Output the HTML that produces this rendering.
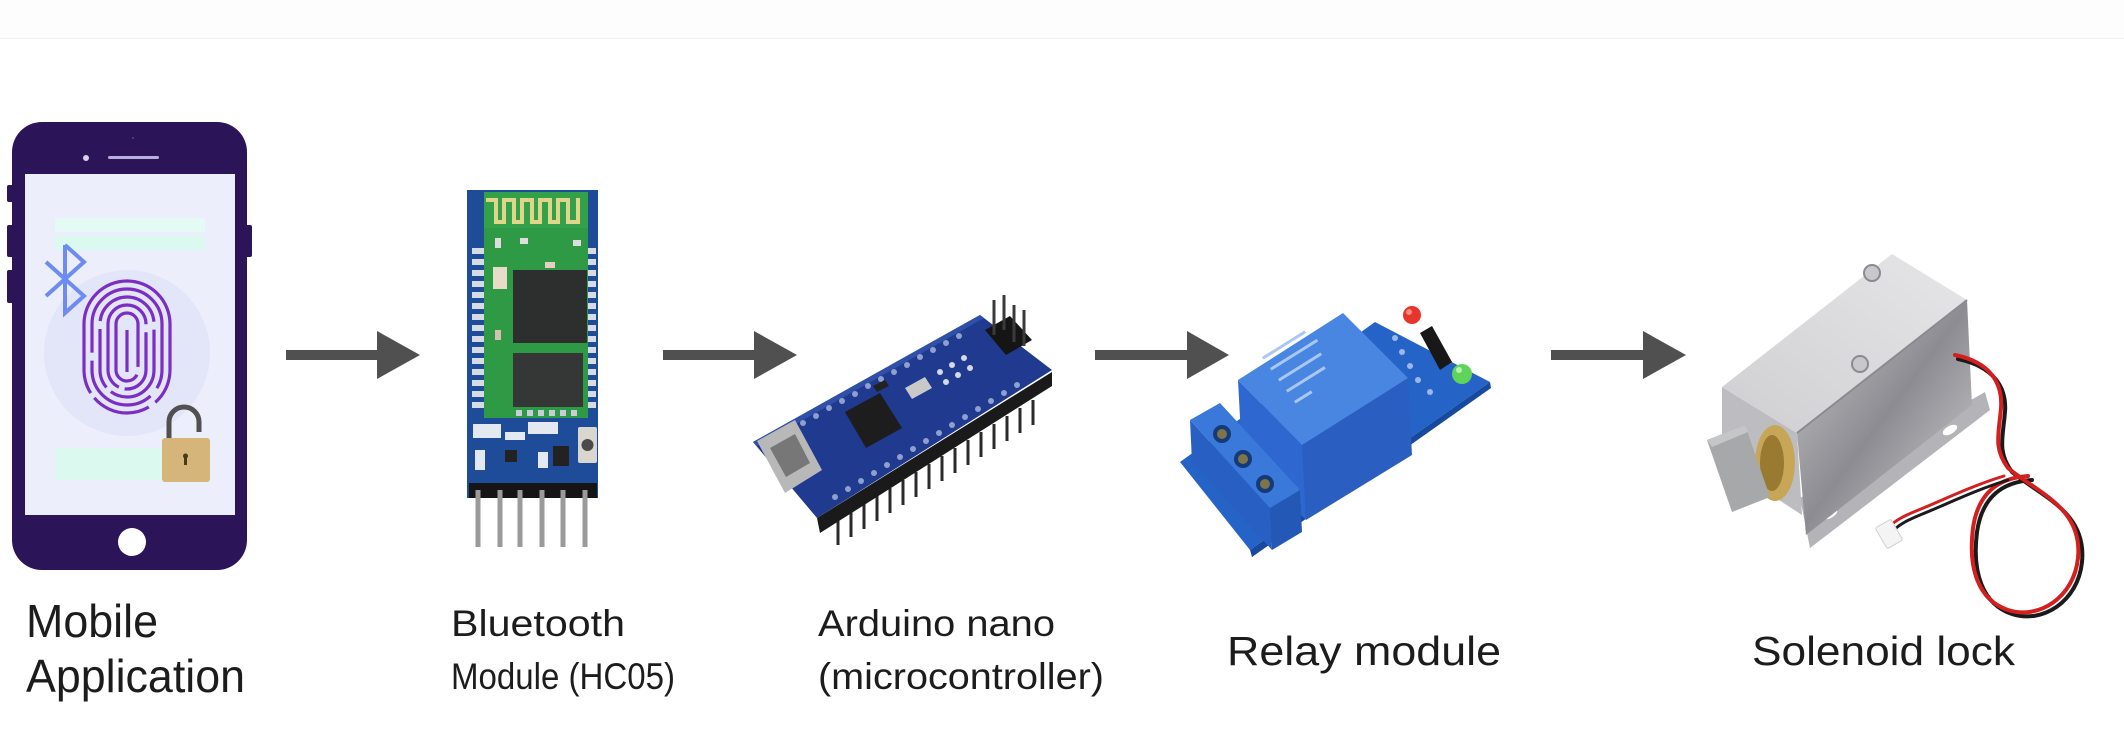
<!DOCTYPE html>
<html>
<head>
<meta charset="utf-8">
<style>
html,body{margin:0;padding:0;background:#fff;}
svg{display:block;}
text{font-family:"Liberation Sans",Arial,sans-serif;fill:#1c1c1c;}
</style>
</head>
<body>
<svg width="2124" height="747" viewBox="0 0 2124 747" xmlns="http://www.w3.org/2000/svg">
<rect width="2124" height="747" fill="#ffffff"/>
<rect x="0" y="0" width="2124" height="38" fill="#fdfdfd"/>
<line x1="0" y1="38.5" x2="2124" y2="38.5" stroke="#f0f0f0" stroke-width="1"/>

<!-- ============ PHONE ============ -->
<rect x="7" y="185" width="8" height="17" rx="2" fill="#2b1457"/>
<rect x="7" y="225" width="8" height="32" rx="2" fill="#2b1457"/>
<rect x="7" y="270" width="8" height="33" rx="2" fill="#2b1457"/>
<rect x="244" y="225" width="8" height="32" rx="2" fill="#2b1457"/>
<rect x="12" y="122" width="235" height="448" rx="30" fill="#2b1457"/>
<rect x="25" y="174" width="210" height="341" fill="#eceefc"/>
<circle cx="86" cy="158" r="3" fill="#d7d0ef"/>
<rect x="108" y="156" width="51" height="3" rx="1.5" fill="#b9aee0"/>
<circle cx="133" cy="138" r="1" fill="#5a4a86"/>
<circle cx="132" cy="542" r="14" fill="#ffffff"/>
<rect x="55" y="218" width="150" height="14" fill="#e3fbf4"/>
<rect x="55" y="236" width="150" height="14" fill="#dcf9f0"/>
<rect x="55" y="448" width="140" height="32" fill="#dcf9f0"/>
<circle cx="127" cy="353" r="83" fill="#e3e5f9"/>
<g fill="none" stroke="#7b2ec3" stroke-width="3.2">
  <rect x="84" y="281" width="86" height="132" rx="43" stroke-dasharray="150 8 60 6 200 10"/>
  <rect x="92" y="289" width="70" height="116" rx="35" stroke-dasharray="120 10 90 8 200"/>
  <rect x="100" y="297" width="54" height="100" rx="27" stroke-dasharray="40 8 100 6 60 8 200"/>
  <rect x="108" y="305" width="38" height="84" rx="19" stroke-dasharray="30 8 70 6 200"/>
  <rect x="116" y="313" width="22" height="68" rx="11" stroke-dasharray="60 8 200"/>
  <line x1="127" y1="330" x2="127" y2="372"/>
</g>
<path d="M65,245 V313 L84,296 L46,262 M65,245 L84,262 L46,296" fill="none" stroke="#6d8cf2" stroke-width="4" stroke-linejoin="miter"/>
<path d="M169,440 V422 A15,15 0 0 1 199,422 V432" fill="none" stroke="#505050" stroke-width="5"/>
<rect x="162" y="438" width="48" height="44" rx="3" fill="#d5b57a"/>
<rect x="184" y="455" width="3" height="10" fill="#4a3a1a"/>
<circle cx="185.5" cy="456" r="2.5" fill="#4a3a1a"/>

<!-- ============ ARROWS ============ -->
<g fill="#505050">
  <rect x="286" y="350" width="93" height="10"/>
  <polygon points="377,331 420,355 377,379"/>
  <rect x="663" y="350" width="93" height="10"/>
  <polygon points="754,331 797,355 754,379"/>
  <rect x="1095" y="350" width="94" height="10"/>
  <polygon points="1187,331 1229,355 1187,379"/>
  <rect x="1551" y="350" width="94" height="10"/>
  <polygon points="1643,331 1686,355 1643,379"/>
</g>

<!-- ============ BLUETOOTH MODULE ============ -->
<rect x="467" y="190" width="131" height="308" fill="#1f4c98"/>
<rect x="484" y="192" width="104" height="226" fill="#2f9a45"/>
<rect x="484" y="192" width="104" height="36" fill="#33a04a"/>
<path d="M486,200 H496 V222 H504 V200 H514 V222 H522 V200 H532 V222 H540 V200 H550 V222 H558 V200 H568 V222 H578 V198" fill="none" stroke="#e1d58a" stroke-width="4"/>
<rect x="513" y="270" width="74" height="73" fill="#2c2f2d"/>
<rect x="513" y="353" width="70" height="54" fill="#343735"/>
<rect x="493" y="267" width="14" height="22" fill="#e6dcc8"/>
<rect x="495" y="238" width="6" height="10" fill="#ddd"/>
<rect x="520" y="238" width="8" height="6" fill="#ddd"/>
<rect x="545" y="262" width="10" height="6" fill="#e6cfc0"/>
<rect x="573" y="240" width="8" height="6" fill="#ddd"/>
<rect x="495" y="330" width="6" height="10" fill="#d8c0b0"/>
<g fill="#d6dbe6">
  <rect x="472" y="248" width="12" height="6"/><rect x="472" y="259" width="12" height="6"/>
  <rect x="472" y="270" width="12" height="6"/><rect x="472" y="281" width="12" height="6"/>
  <rect x="472" y="292" width="12" height="6"/><rect x="472" y="303" width="12" height="6"/>
  <rect x="472" y="314" width="12" height="6"/><rect x="472" y="325" width="12" height="6"/>
  <rect x="472" y="336" width="12" height="6"/><rect x="472" y="347" width="12" height="6"/>
  <rect x="472" y="358" width="12" height="6"/><rect x="472" y="369" width="12" height="6"/>
  <rect x="472" y="380" width="12" height="6"/><rect x="472" y="391" width="12" height="6"/>
  <rect x="472" y="402" width="12" height="6"/>
  <rect x="588" y="248" width="8" height="6"/><rect x="588" y="259" width="8" height="6"/>
  <rect x="588" y="270" width="8" height="6"/><rect x="588" y="281" width="8" height="6"/>
  <rect x="588" y="292" width="8" height="6"/><rect x="588" y="303" width="8" height="6"/>
  <rect x="588" y="314" width="8" height="6"/><rect x="588" y="325" width="8" height="6"/>
  <rect x="588" y="336" width="8" height="6"/><rect x="588" y="347" width="8" height="6"/>
  <rect x="588" y="358" width="8" height="6"/><rect x="588" y="369" width="8" height="6"/>
  <rect x="588" y="380" width="8" height="6"/><rect x="588" y="391" width="8" height="6"/>
  <rect x="588" y="402" width="8" height="6"/>
</g>
<g fill="#c8cdd8">
  <rect x="516" y="410" width="6" height="6"/><rect x="527" y="410" width="6" height="6"/>
  <rect x="538" y="410" width="6" height="6"/><rect x="549" y="410" width="6" height="6"/>
  <rect x="560" y="410" width="6" height="6"/><rect x="571" y="410" width="6" height="6"/>
</g>
<g fill="#e4e8f0">
  <rect x="473" y="424" width="28" height="14"/>
  <rect x="505" y="432" width="20" height="8"/>
  <rect x="528" y="422" width="30" height="12"/>
  <rect x="475" y="450" width="10" height="20"/>
  <rect x="538" y="452" width="10" height="16"/>
</g>
<rect x="505" y="450" width="12" height="12" fill="#222"/>
<rect x="553" y="446" width="16" height="20" fill="#222"/>
<rect x="578" y="427" width="19" height="36" rx="2" fill="#d9d6cf"/>
<circle cx="587.5" cy="445" r="6" fill="#4a4a4a"/>
<rect x="469" y="483" width="128" height="15" fill="#151515"/>
<g stroke="#9a9a9a" stroke-width="5">
  <line x1="478" y1="490" x2="478" y2="547"/><line x1="500" y1="490" x2="500" y2="547"/>
  <line x1="520" y1="490" x2="520" y2="547"/><line x1="542" y1="490" x2="542" y2="547"/>
  <line x1="563" y1="490" x2="563" y2="547"/><line x1="585" y1="490" x2="585" y2="547"/>
</g>

<!-- ============ ARDUINO NANO ============ -->
<g stroke="#2a2a2a" stroke-width="3">
  <line x1="838" y1="520" x2="838" y2="545"/><line x1="851" y1="512" x2="851" y2="537"/>
  <line x1="864" y1="504" x2="864" y2="529"/><line x1="877" y1="496" x2="877" y2="521"/>
  <line x1="890" y1="488" x2="890" y2="513"/><line x1="903" y1="480" x2="903" y2="505"/>
  <line x1="916" y1="472" x2="916" y2="497"/><line x1="929" y1="464" x2="929" y2="489"/>
  <line x1="942" y1="456" x2="942" y2="481"/><line x1="955" y1="448" x2="955" y2="473"/>
  <line x1="968" y1="440" x2="968" y2="465"/><line x1="981" y1="432" x2="981" y2="457"/>
  <line x1="994" y1="424" x2="994" y2="449"/><line x1="1007" y1="416" x2="1007" y2="441"/>
  <line x1="1020" y1="408" x2="1020" y2="433"/><line x1="1033" y1="400" x2="1033" y2="425"/>
</g>
<polygon points="817,518 1052,372 1052,386 820,533" fill="#1a1a1a"/>
<polygon points="753,442 980,315 1052,370 817,518" fill="#1f3a8e"/>
<polygon points="753,442 980,315 984,318 757,446" fill="#3050a8"/>
<g fill="#8f9fcf">
  <circle cx="790" cy="430" r="3"/><circle cx="803" cy="423" r="3"/><circle cx="816" cy="416" r="3"/>
  <circle cx="829" cy="408" r="3"/><circle cx="842" cy="401" r="3"/><circle cx="855" cy="394" r="3"/>
  <circle cx="868" cy="386" r="3"/><circle cx="881" cy="379" r="3"/><circle cx="894" cy="372" r="3"/>
  <circle cx="907" cy="365" r="3"/><circle cx="920" cy="357" r="3"/><circle cx="933" cy="350" r="3"/>
  <circle cx="946" cy="343" r="3"/><circle cx="959" cy="336" r="3"/>
  <circle cx="835" cy="497" r="3"/><circle cx="848" cy="489" r="3"/><circle cx="861" cy="481" r="3"/>
  <circle cx="874" cy="473" r="3"/><circle cx="887" cy="465" r="3"/><circle cx="900" cy="457" r="3"/>
  <circle cx="913" cy="449" r="3"/><circle cx="926" cy="441" r="3"/><circle cx="939" cy="433" r="3"/>
  <circle cx="952" cy="425" r="3"/><circle cx="965" cy="417" r="3"/><circle cx="978" cy="409" r="3"/>
  <circle cx="991" cy="401" r="3"/><circle cx="1004" cy="393" r="3"/><circle cx="1017" cy="385" r="3"/>
</g>
<g fill="#d5d8e6">
  <circle cx="940" cy="372" r="3"/><circle cx="952" cy="365" r="3"/><circle cx="964" cy="358" r="3"/>
  <circle cx="946" cy="382" r="3"/><circle cx="958" cy="375" r="3"/><circle cx="970" cy="368" r="3"/>
</g>
<polygon points="845,412 880,393 902,428 866,448" fill="#1d1d1d"/>
<polygon points="905,388 925,377 932,388 912,399" fill="#c9c9c9"/>
<polygon points="873,386 885,380 889,386 877,392" fill="#222"/>
<polygon points="757,441 795,420 822,470 785,493" fill="#b8b8b8"/>
<polygon points="770,448 795,434 810,463 786,477" fill="#777"/>
<polygon points="985,330 1010,316 1032,340 1006,355" fill="#151515"/>
<g stroke="#3a3a3a" stroke-width="3">
  <line x1="994" y1="300" x2="994" y2="335"/><line x1="1004" y1="295" x2="1004" y2="330"/>
  <line x1="1014" y1="305" x2="1014" y2="342"/><line x1="1024" y1="310" x2="1024" y2="346"/>
</g>

<!-- ============ RELAY MODULE ============ -->
<polygon points="1180,462 1375,322 1490,382 1250,550" fill="#2563c6"/>
<polygon points="1250,550 1490,382 1491,388 1252,557" fill="#174a9e"/>
<polygon points="1420,333 1432,326 1452,362 1440,370" fill="#181818"/>
<g fill="#9bb8e8">
  <circle cx="1395" cy="338" r="3"/><circle cx="1402" cy="352" r="3"/><circle cx="1410" cy="366" r="3"/>
  <circle cx="1418" cy="380" r="3"/><circle cx="1430" cy="392" r="3"/>
</g>
<circle cx="1412" cy="315" r="9" fill="#e6352b"/>
<circle cx="1409" cy="312" r="3" fill="#ff8a80"/>
<circle cx="1462" cy="374" r="10" fill="#5fd35a"/>
<circle cx="1459" cy="370" r="3" fill="#b6f2b0"/>
<!-- relay box -->
<polygon points="1238,380 1302,445 1306,520 1242,455" fill="#2e67cf"/>
<polygon points="1302,445 1408,378 1412,455 1306,520" fill="#2a5ec0"/>
<polygon points="1238,380 1343,313 1408,378 1302,445" fill="#4886e2"/>
<g fill="#a9c7f2">
  <rect x="1262" y="357" width="50" height="3" transform="rotate(-32 1262 357)"/>
  <rect x="1270" y="368" width="55" height="3" transform="rotate(-32 1270 368)"/>
  <rect x="1278" y="379" width="50" height="3" transform="rotate(-32 1278 379)"/>
  <rect x="1286" y="390" width="45" height="3" transform="rotate(-32 1286 390)"/>
  <rect x="1294" y="401" width="20" height="3" transform="rotate(-32 1294 401)"/>
</g>
<!-- terminal block -->
<polygon points="1190,420 1270,508 1272,550 1192,462" fill="#285fc2"/>
<polygon points="1270,508 1300,490 1302,532 1272,550" fill="#2458b6"/>
<polygon points="1190,420 1220,403 1300,490 1270,508" fill="#3a78da"/>
<g>
  <circle cx="1222" cy="434" r="9" fill="#153a7a"/><circle cx="1222" cy="434" r="5" fill="#7d7448"/>
  <circle cx="1243" cy="459" r="9" fill="#153a7a"/><circle cx="1243" cy="459" r="5" fill="#7d7448"/>
  <circle cx="1265" cy="484" r="9" fill="#153a7a"/><circle cx="1265" cy="484" r="5" fill="#7d7448"/>
</g>

<!-- ============ SOLENOID LOCK ============ -->
<defs>
  <linearGradient id="sideg" x1="0" y1="0" x2="1" y2="1">
    <stop offset="0" stop-color="#c6c6ca"/>
    <stop offset="0.5" stop-color="#8c8c92"/>
    <stop offset="1" stop-color="#d2d2d6"/>
  </linearGradient>
  <linearGradient id="topg" x1="0" y1="1" x2="1" y2="0">
    <stop offset="0" stop-color="#cfcfd2"/>
    <stop offset="1" stop-color="#e6e6e8"/>
  </linearGradient>
</defs>
<polygon points="1800,498 1985,392 1990,410 1810,548" fill="#b3b3b8"/>
<ellipse cx="1830" cy="514" rx="8" ry="4" fill="#fff" transform="rotate(-30 1830 514)"/>
<ellipse cx="1950" cy="430" rx="8" ry="4" fill="#fff" transform="rotate(-30 1950 430)"/>
<polygon points="1797,433 1967,300 1972,405 1806,535" fill="url(#sideg)"/>
<polygon points="1722,387 1797,433 1802,515 1722,463" fill="#bdbdc1"/>
<polygon points="1722,387 1892,254 1967,300 1797,433" fill="url(#topg)"/>
<line x1="1797" y1="433" x2="1967" y2="300" stroke="#8a8a90" stroke-width="2"/>
<circle cx="1872" cy="273" r="8" fill="#c8c8cc" stroke="#8a8a8f" stroke-width="2"/>
<circle cx="1860" cy="364" r="8" fill="#c8c8cc" stroke="#8a8a8f" stroke-width="2"/>
<ellipse cx="1775" cy="463" rx="20" ry="38" fill="#c7a757"/>
<ellipse cx="1772" cy="463" rx="12" ry="28" fill="#9a7a30"/>
<polygon points="1707,440 1745,425 1770,497 1732,512" fill="#a6a8aa"/>
<polygon points="1707,440 1745,425 1748,432 1712,447" fill="#c4c6c8"/>
<!-- wires -->
<g fill="none" stroke-linecap="round">
  <path d="M1958,359 C1992,366 2007,386 2005,412 C2003,437 1997,452 2012,472 C2042,497 2087,512 2082,562 C2078,602 2042,624 2012,614 C1982,604 1972,572 1977,532 C1982,497 2002,482 2032,480" stroke="#1a1a1a" stroke-width="4"/>
  <path d="M1955,355 C1989,362 2003,382 2001,408 C1999,433 1993,448 2008,468 C2038,493 2083,508 2078,558 C2074,598 2038,620 2008,610 C1978,600 1968,568 1973,528 C1978,493 1998,478 2028,476" stroke="#d41f1f" stroke-width="4"/>
  <path d="M2008,480 C1975,490 1945,505 1920,515 C1908,520 1900,524 1894,530" stroke="#1a1a1a" stroke-width="3"/>
  <path d="M2004,476 C1971,486 1941,501 1916,511 C1904,516 1896,520 1890,526" stroke="#d41f1f" stroke-width="3"/>
</g>
<rect x="1880" y="522" width="18" height="24" rx="2" fill="#f4f4f4" stroke="#d0d0d0" stroke-width="1" transform="rotate(-30 1889 534)"/>

<!-- ============ LABELS ============ -->
<text x="26" y="637" font-size="46" textLength="132" lengthAdjust="spacingAndGlyphs">Mobile</text>
<text x="26" y="692" font-size="46" textLength="219" lengthAdjust="spacingAndGlyphs">Application</text>
<text x="451" y="636" font-size="37" textLength="174" lengthAdjust="spacingAndGlyphs">Bluetooth</text>
<text x="451" y="689" font-size="37" textLength="224" lengthAdjust="spacingAndGlyphs">Module (HC05)</text>
<text x="818" y="636" font-size="37" textLength="237" lengthAdjust="spacingAndGlyphs">Arduino nano</text>
<text x="818" y="689" font-size="37" textLength="286" lengthAdjust="spacingAndGlyphs">(microcontroller)</text>
<text x="1227" y="665" font-size="41" textLength="274" lengthAdjust="spacingAndGlyphs">Relay module</text>
<text x="1752" y="665" font-size="41" textLength="263" lengthAdjust="spacingAndGlyphs">Solenoid lock</text>
</svg>
</body>
</html>
